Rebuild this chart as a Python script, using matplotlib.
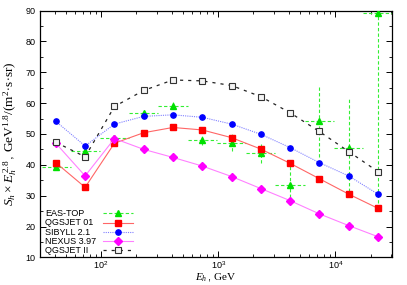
import numpy as np
import matplotlib
matplotlib.use("Agg")
import matplotlib.pyplot as plt
from matplotlib.lines import Line2D
from matplotlib.ticker import MultipleLocator, LogLocator

plt.rcParams["font.family"] = ["Liberation Sans", "DejaVu Sans"]
plt.rcParams["mathtext.fontset"] = "custom"
plt.rcParams["mathtext.rm"] = "Liberation Serif"
plt.rcParams["mathtext.it"] = "Liberation Serif:italic"

# hadron energy bins (GeV)
energy = [41, 73, 130, 231, 410, 730, 1300, 2310, 4100, 7300, 13000, 23100]
bin_lo = [31, 55, 97, 173, 308, 548, 975, 1730, 3080, 5480, 9750, 17300]
bin_hi = [55, 97, 173, 308, 548, 975, 1730, 3080, 5480, 9750, 17300, 30800]

eastop = [39.4, 44.6, 48.7, 56.7, 59.1, 48.1, 47.2, 43.7, 33.5, 54.2, 45.4, 89.2]
eastop_err = [0.4, 0.5, 0.5, 0.6, 1.1, 1.6, 2.8, 3.2, 6.0, 11.6, 15.8, 61.6]

qgsjet01 = [40.7, 32.7, 47.0, 50.4, 52.1, 51.3, 48.8, 45.1, 40.5, 35.5, 30.5, 25.9]
sibyll = [54.1, 46.1, 53.2, 55.7, 56.2, 55.4, 53.2, 49.9, 45.6, 40.7, 36.4, 30.5]
nexus = [47.0, 36.4, 48.5, 45.0, 42.4, 39.6, 36.2, 32.3, 28.4, 24.1, 20.3, 16.7]
qgsjet2 = [47.3, 42.6, 58.9, 64.1, 67.5, 67.2, 65.7, 62.1, 56.9, 50.8, 44.3, 37.8]

labels = ["EAS-TOP", "QGSJET 01", "SIBYLL 2.1", "NEXUS 3.97", "QGSJET II"]

GREEN_DASH = (0, (3, 2))
BLACK_DASH = (0, (2.5, 4))
styles = [
    dict(color="#33ee33", ls=GREEN_DASH, lw=0.8, marker="^", mfc="#00e000", mec="#00e000", ms=4),
    dict(color="#ff6666", lw=0.8, marker="s", mfc="#ff0000", mec="#ff0000", ms=4.2),
    dict(color="#8080ff", lw=0.8, ls=(0, (1, 1)), marker="o", mfc="#0000ff", mec="#0000ff", ms=3.8),
    dict(color="#ff80ff", lw=0.8, marker="D", mfc="#ff00ff", mec="#ff00ff", ms=3.6),
    dict(color="#222222", lw=0.9, ls=BLACK_DASH, marker="s", mfc="#f4f4f4", mec="#333333", mew=0.8, ms=4.2),
]

fig = plt.figure(figsize=(4.07, 2.85), dpi=100)
ax = fig.add_axes([0.098, 0.097, 0.864, 0.866])

e = np.array(energy)
xerr = [e - np.array(bin_lo), np.array(bin_hi) - e]
eb = ax.errorbar(energy, eastop, yerr=eastop_err, xerr=xerr, fmt="^", color="#00e000",
                 ecolor="#33ee33", elinewidth=0.8, ms=4, capsize=0, zorder=3)
for ln in eb[2]:
    ln.set_linestyle(GREEN_DASH)

for i, series in enumerate([qgsjet01, sibyll, nexus, qgsjet2]):
    st = dict(styles[i + 1])
    mk = {k: st.pop(k) for k in ["marker", "mfc", "mec", "ms"]}
    mew = st.pop("mew", 1.0)
    ax.plot(energy, series, zorder=4 + i, **st)
    ax.plot(energy, series, ls="none", mew=mew, zorder=4 + i, **mk)

ax.set_xscale("log")
ax.set_xlim(30, 30200)
ax.set_ylim(10, 90)
ax.yaxis.set_major_locator(MultipleLocator(10))
ax.yaxis.set_minor_locator(MultipleLocator(5))
ax.xaxis.set_major_locator(LogLocator(base=10))
ax.xaxis.set_minor_locator(LogLocator(base=10, subs=np.arange(2, 10)))
ax.tick_params(which="both", direction="in", top=True, right=True, labelsize=6.5, pad=3)
ax.tick_params(axis="x", pad=1.5)
ax.tick_params(which="major", length=4, width=0.7)
ax.tick_params(which="minor", length=2, width=0.6)
for s in ax.spines.values():
    s.set_linewidth(0.9)

ax.set_xlabel(r"$E_h\,$, $\mathrm{GeV}$", fontsize=8, va="center")
ax.xaxis.set_label_coords(0.5, -0.078)
ax.set_ylabel(r"$S_h \times E_h^{\,2.8}\,$, $\mathrm{GeV}^{1.8}/(\mathrm{m}^2\!\cdot\!\mathrm{s}\!\cdot\!\mathrm{sr})$",
              fontsize=9.6, va="center")
ax.yaxis.set_label_coords(-0.083, 0.5)

# gnuplot-style key: label left, sample right
row_y = [0.178, 0.140, 0.1026, 0.0661, 0.0296]
for lab, yy, st in zip(labels, row_y, styles):
    ax.text(0.014, yy, lab, transform=ax.transAxes, fontsize=6.5, va="center", ha="left")
    st = dict(st)
    mk = {k: st.pop(k) for k in ["marker", "mfc", "mec", "ms"]}
    mew = st.pop("mew", 1.0)
    ax.add_line(Line2D([0.179, 0.265], [yy, yy], transform=ax.transAxes, **st))
    ax.add_line(Line2D([0.222], [yy], transform=ax.transAxes, ls="none", mew=mew, **mk))

fig.savefig("out.png", dpi=100)
